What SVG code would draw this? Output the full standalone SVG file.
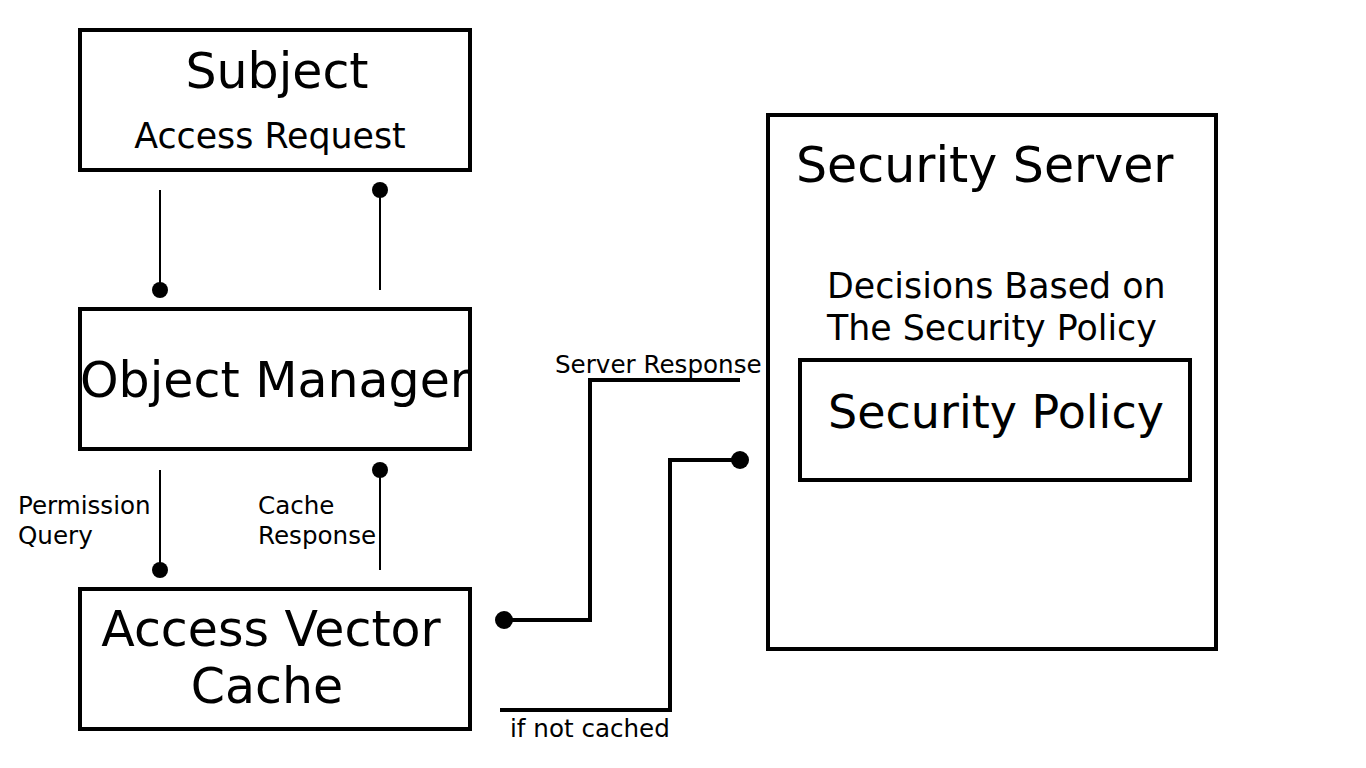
<svg xmlns="http://www.w3.org/2000/svg" width="1366" height="768" viewBox="0 0 1366 768">
<style>
.box{fill:#fff;stroke:#000;stroke-width:4}
.big{font-family:"DejaVu Sans",sans-serif;font-size:49px;fill:#000}
.pol{font-family:"DejaVu Sans",sans-serif;font-size:46px;fill:#000}
.mid{font-family:"DejaVu Sans",sans-serif;font-size:34.8px;fill:#000}
.sm{font-family:"DejaVu Sans",sans-serif;font-size:24.6px;fill:#000}
.thin{fill:none;stroke:#000;stroke-width:2}
.thick{fill:none;stroke:#000;stroke-width:4}
.dot{fill:#000}
</style>
<rect width="1366" height="768" fill="#fff"/>
<g id="subject">
<rect class="box" x="80" y="30" width="390" height="140"/>
<text class="big" x="277" y="88" text-anchor="middle">Subject</text>
<text class="mid" x="270" y="148" text-anchor="middle">Access Request</text>
</g>
<g id="object-manager">
<rect class="box" x="80" y="309" width="390" height="140"/>
<text class="big" x="275" y="397" text-anchor="middle">Object Manager</text>
</g>
<g id="access-vector-cache">
<rect class="box" x="80" y="589" width="390" height="140"/>
<text class="big" x="271" y="646" text-anchor="middle">Access Vector</text>
<text class="big" x="267" y="703" text-anchor="middle">Cache</text>
</g>
<g id="security-server">
<rect class="box" x="768" y="115" width="448" height="534"/>
<text class="big" x="796" y="182">Security Server</text>
<text class="mid" x="827" y="298">Decisions Based on</text>
<text class="mid" x="827" y="340">The Security Policy</text>
</g>
<g id="security-policy">
<rect class="box" x="800" y="360" width="390" height="120"/>
<text class="pol" x="996" y="428" text-anchor="middle">Security Policy</text>
</g>
<g id="connectors">
<line class="thin" x1="160" y1="190" x2="160" y2="290"/>
<circle class="dot" cx="160" cy="290" r="8"/>
<line class="thin" x1="380" y1="190" x2="380" y2="290"/>
<circle class="dot" cx="380" cy="190" r="8"/>
<line class="thin" x1="160" y1="470" x2="160" y2="570"/>
<circle class="dot" cx="160" cy="570" r="8"/>
<line class="thin" x1="380" y1="470" x2="380" y2="570"/>
<circle class="dot" cx="380" cy="470" r="8"/>
<polyline class="thick" points="504,620 590,620 590,380 740,380"/>
<circle class="dot" cx="504" cy="620" r="9"/>
<polyline class="thick" points="500,710 670,710 670,460 740,460"/>
<circle class="dot" cx="740" cy="460" r="9"/>
<text class="sm" x="18" y="514">Permission</text>
<text class="sm" x="18" y="544">Query</text>
<text class="sm" x="258" y="514">Cache</text>
<text class="sm" x="258" y="544">Response</text>
<text class="sm" x="555" y="373">Server Response</text>
<text class="sm" x="510" y="737">if not cached</text>
</g>
</svg>
